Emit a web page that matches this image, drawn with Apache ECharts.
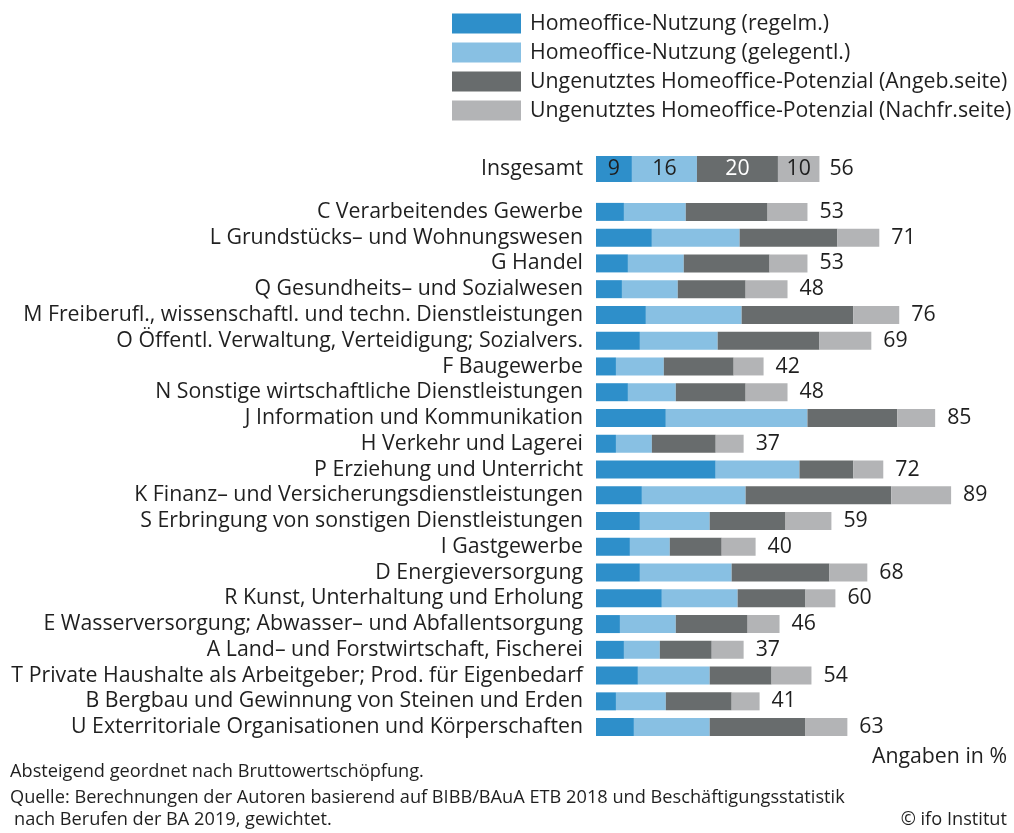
<!DOCTYPE html>
<html><head><meta charset="utf-8">
<script src="https://cdn.jsdelivr.net/npm/echarts@6/dist/echarts.min.js"></script>
<style>html,body{margin:0;padding:0;background:#fff}#c{width:1014px;height:833px}</style>
</head><body><div id="c"></div>
<script>
const seriesNames = ['Homeoffice-Nutzung (regelm.)','Homeoffice-Nutzung (gelegentl.)','Ungenutztes Homeoffice-Potenzial (Angeb.seite)','Ungenutztes Homeoffice-Potenzial (Nachfr.seite)'];
const colors = ['#2e8fca','#88c0e3','#686c6d','#b3b4b6'];

const totalCategory = ['Insgesamt'];
const totalRegelm = [9];
const totalGelegentl = [16.3];
const totalAngeb = [20.3];
const totalNachfr = [10.4];
const totalLabels = [[9],[16],[20],[10]];
const totalSum = [56];

const categories = [
 'C Verarbeitendes Gewerbe',
 'L Grundstücks– und Wohnungswesen',
 'G Handel',
 'Q Gesundheits– und Sozialwesen',
 'M Freiberufl., wissenschaftl. und techn. Dienstleistungen',
 'O Öffentl. Verwaltung, Verteidigung; Sozialvers.',
 'F Baugewerbe',
 'N Sonstige wirtschaftliche Dienstleistungen',
 'J Information und Kommunikation',
 'H Verkehr und Lagerei',
 'P Erziehung und Unterricht',
 'K Finanz– und Versicherungsdienstleistungen',
 'S Erbringung von sonstigen Dienstleistungen',
 'I Gastgewerbe',
 'D Energieversorgung',
 'R Kunst, Unterhaltung und Erholung',
 'E Wasserversorgung; Abwasser– und Abfallentsorgung',
 'A Land– und Forstwirtschaft, Fischerei',
 'T Private Haushalte als Arbeitgeber; Prod. für Eigenbedarf',
 'B Bergbau und Gewinnung von Steinen und Erden',
 'U Exterritoriale Organisationen und Körperschaften'
];
const regelm =    [7, 14, 8, 6.5, 12.5, 11, 5, 8, 17.5, 5, 30, 11.5, 11, 8.5, 11, 16.5, 6, 7, 10.5, 5, 9.5];
const gelegentl = [15.5, 22, 14, 14, 24, 19.5, 12, 12, 35.5, 9, 21, 26, 17.5, 10, 23, 19, 14, 9, 18, 12.5, 19];
const angeb =     [20.5, 24.5, 21.5, 17, 28, 25.5, 17.5, 17.5, 22.5, 16, 13.5, 36.5, 19, 13, 24.5, 17, 18, 13, 15.5, 16.5, 24];
const nachfr =    [10, 10.5, 9.5, 10.5, 11.5, 13, 7.5, 10.5, 9.5, 7, 7.5, 15, 11.5, 8.5, 9.5, 7.5, 8, 8, 10, 7, 10.5];
const totals =    [53, 71, 53, 48, 76, 69, 42, 48, 85, 37, 72, 89, 59, 40, 68, 60, 46, 37, 54, 41, 63];

const FONT = 'Open Sans';
const FS = 21.3;
const FS2 = 18.2;
const TXT = '#1f1f1f';
const chart = echarts.init(document.getElementById('c'));

const topData = [totalRegelm, totalGelegentl, totalAngeb, totalNachfr];
const mainData = [regelm, gelegentl, angeb, nachfr];
const series = [];
for (let i = 0; i < 4; i++) {
  series.push({
    name: seriesNames[i], type: 'bar', stack: 'top', xAxisIndex: 0, yAxisIndex: 0,
    data: topData[i], barWidth: 26, itemStyle: {color: colors[i]},
    label: {show: true, position: 'inside', fontFamily: FONT, fontSize: FS,
      color: i === 2 ? '#ffffff' : TXT, formatter: p => totalLabels[i][p.dataIndex]}
  });
}
series.push({
  type: 'bar', stack: 'top', xAxisIndex: 0, yAxisIndex: 0, data: totalSum.map(() => 0),
  barWidth: 26, itemStyle: {color: 'transparent'}, silent: true,
  label: {show: true, position: 'right', distance: 10, fontFamily: FONT, fontSize: FS, color: TXT,
    formatter: p => totalSum[p.dataIndex]}
});
for (let i = 0; i < 4; i++) {
  series.push({
    name: seriesNames[i], type: 'bar', stack: 'main', xAxisIndex: 1, yAxisIndex: 1,
    data: mainData[i], barWidth: 18, itemStyle: {color: colors[i]}
  });
}
series.push({
  type: 'bar', stack: 'main', xAxisIndex: 1, yAxisIndex: 1, data: totals.map(() => 0),
  barWidth: 18, itemStyle: {color: 'transparent'}, silent: true,
  label: {show: true, position: 'right', distance: 12, fontFamily: FONT, fontSize: FS, color: TXT,
    formatter: p => totals[p.dataIndex]}
});

const yLabel = {fontFamily: FONT, fontSize: FS, color: TXT, margin: 13, interval: 0};
chart.setOption({
  animation: false,
  textStyle: {fontFamily: FONT},
  legend: {
    orient: 'vertical', left: 447, top: 8, itemWidth: 69, itemHeight: 20, itemGap: 8,
    icon: 'rect', data: seriesNames,
    textStyle: {fontFamily: FONT, fontSize: FS, color: TXT, padding: [0, 0, 0, 4]}
  },
  grid: [
    {left: 596, width: 399, top: 154, height: 30},
    {left: 596, width: 399, top: 199, height: 541}
  ],
  xAxis: [
    {gridIndex: 0, type: 'value', min: 0, max: 100, show: false},
    {gridIndex: 1, type: 'value', min: 0, max: 100, show: false}
  ],
  yAxis: [
    {gridIndex: 0, type: 'category', data: totalCategory, inverse: true,
     axisLine: {show: false}, axisTick: {show: false}, axisLabel: yLabel},
    {gridIndex: 1, type: 'category', data: categories, inverse: true,
     axisLine: {show: false}, axisTick: {show: false}, axisLabel: yLabel}
  ],
  graphic: [
    {type: 'text', right: 7, top: 746, style: {text: 'Angaben in %', font: FS + 'px ' + FONT, fill: TXT}},
    {type: 'text', left: 10, top: 763, style: {text: 'Absteigend geordnet nach Bruttowertschöpfung.', font: FS2 + 'px ' + FONT, fill: TXT}},
    {type: 'text', left: 10, top: 789, style: {text: 'Quelle: Berechnungen der Autoren basierend auf BIBB/BAuA ETB 2018 und Beschäftigungsstatistik', font: FS2 + 'px ' + FONT, fill: TXT}},
    {type: 'text', left: 14, top: 811, style: {text: 'nach Berufen der BA 2019, gewichtet.', font: FS2 + 'px ' + FONT, fill: TXT}},
    {type: 'text', right: 7, top: 811, style: {text: '© ifo Institut', font: FS2 + 'px ' + FONT, fill: TXT}}
  ],
  series: series
});
</script></body></html>
